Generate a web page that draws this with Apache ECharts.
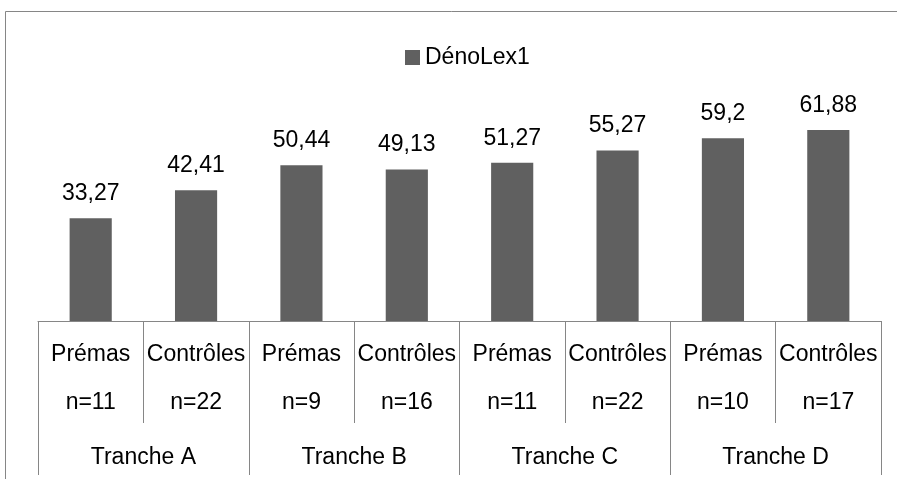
<!DOCTYPE html>
<html>
<head>
<meta charset="utf-8">
<script src="https://cdn.jsdelivr.net/npm/echarts@6/dist/echarts.min.js"></script>
<style>
  html, body { margin: 0; padding: 0; background: #fff; }
  #main { width: 897px; height: 479px; }
</style>
</head>
<body>
<div id="main"></div>
<script>
const groups = ["Prémas", "Contrôles", "Prémas", "Contrôles", "Prémas", "Contrôles", "Prémas", "Contrôles"];
const counts = ["n=11", "n=22", "n=9", "n=16", "n=11", "n=22", "n=10", "n=17"];
const values = [33.27, 42.41, 50.44, 49.13, 51.27, 55.27, 59.2, 61.88];
const tranches = ["Tranche A", "Tranche B", "Tranche C", "Tranche D"];

const chart = echarts.init(document.getElementById("main"));
const font = "Liberation Sans";

const option = {
  animation: false,
  textStyle: { fontFamily: font },
  graphic: [
    {
      type: "rect",
      shape: { x: 5.5, y: 11.5, width: 920, height: 500 },
      style: { fill: "none", stroke: "#868686", lineWidth: 1 },
      silent: true,
    },
  ],
  legend: {
    data: ["DénoLex1"],
    left: 400,
    top: 41,
    icon: "rect",
    itemWidth: 15,
    itemHeight: 15,
    itemGap: 6,
    textStyle: { fontFamily: font, fontSize: 23, color: "#000" },
  },
  grid: { left: 38, right: 16, top: 105, bottom: 158 },
  xAxis: [
    {
      type: "category",
      data: groups.map((g, i) => g + "\n" + counts[i]),
      position: "bottom",
      axisLine: { show: true, lineStyle: { color: "#868686", width: 1 } },
      axisTick: { show: true, interval: 0, length: 102, lineStyle: { color: "#868686" } },
      axisLabel: {
        interval: 0,
        margin: 10,
        fontFamily: font,
        fontSize: 23,
        lineHeight: 48,
        color: "#000",
      },
    },
    {
      type: "category",
      data: tranches,
      position: "bottom",
      axisLine: { show: false },
      axisTick: { show: true, interval: 0, length: 154, lineStyle: { color: "#868686" } },
      axisLabel: {
        interval: 0,
        margin: 125,
        fontFamily: font,
        fontSize: 23,
        lineHeight: 23,
        color: "#000",
      },
    },
  ],
  yAxis: { type: "value", min: 0, max: 70, show: false, splitLine: { show: false } },
  series: [
    {
      name: "DénoLex1",
      type: "bar",
      xAxisIndex: 0,
      data: values,
      barWidth: "40%",
      itemStyle: { color: "#606060" },
      label: {
        show: true,
        position: "top",
        distance: 13,
        fontFamily: font,
        fontSize: 23,
        color: "#000",
        formatter: (p) => String(p.value).replace(".", ","),
      },
    },
  ],
};

chart.setOption(option);
</script>
</body>
</html>
